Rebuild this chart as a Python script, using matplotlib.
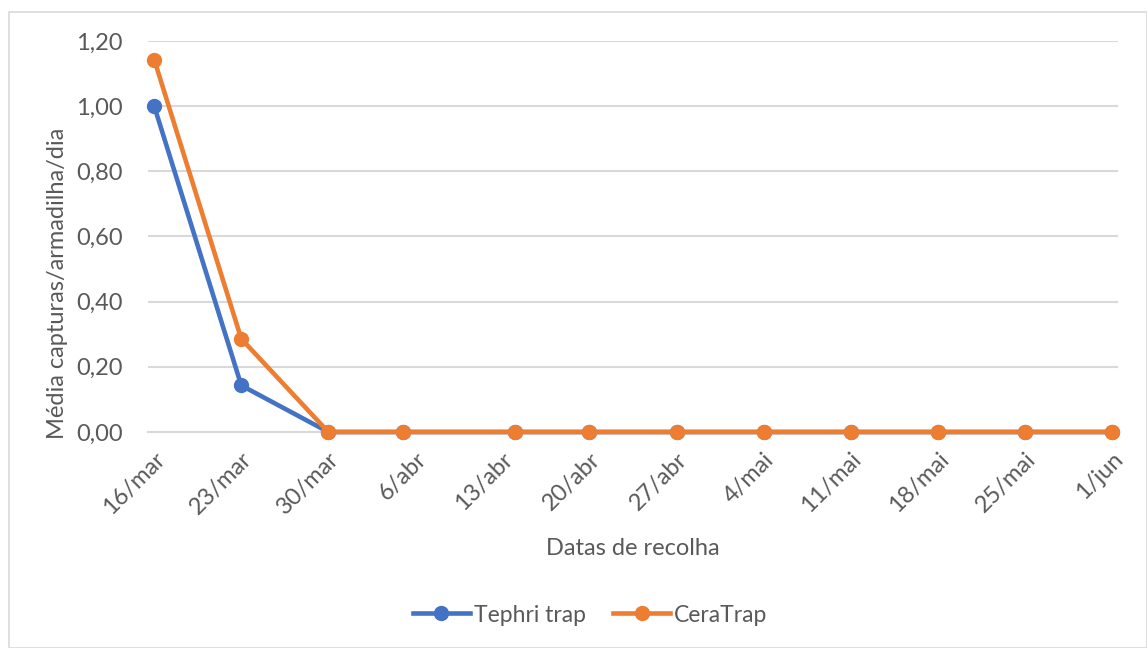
import datetime as dt
import matplotlib
matplotlib.use('Agg')
import matplotlib.pyplot as plt
from matplotlib.ticker import FuncFormatter, MultipleLocator
from matplotlib.patches import Rectangle

plt.rcParams['font.family'] = ['Lato', 'DejaVu Sans']

# dates of collection (day, month)
datas = [(16, 3), (23, 3), (30, 3), (5, 4), (14, 4), (20, 4), (27, 4),
         (4, 5), (11, 5), (18, 5), (25, 5), (1, 6)]
tephri = [1.00, 0.143, 0, 0, 0, 0, 0, 0, 0, 0, 0, 0]
ceratrap = [1.143, 0.286, 0, 0, 0, 0, 0, 0, 0, 0, 0, 0]

meses = {3: 'mar', 4: 'abr', 5: 'mai', 6: 'jun'}
x = [dt.datetime(2020, m, d) for d, m in datas]

c_txt = '#595959'
c_grid = '#D9D9D9'
fnt = 17

fig = plt.figure(figsize=(11.47, 6.48), dpi=100)
fig.patches.append(Rectangle((9/1147, 0), 1 - 9/1147, 1 - 12/648,
                             transform=fig.transFigure, fill=False,
                             ec=c_grid, lw=1.2))
ax = fig.add_axes([148/1147, 1 - 432/648, 970/1147, 391/648])

ax.plot(x, tephri, color='#4472C4', lw=3.3, marker='o', ms=10,
        label='Tephri trap', clip_on=False, zorder=3)
ax.plot(x, ceratrap, color='#ED7D31', lw=3.3, marker='o', ms=10,
        label='CeraTrap', clip_on=False, zorder=4)

ax.set_xlim(x[0] - dt.timedelta(hours=12), x[-1] + dt.timedelta(hours=12))
ax.set_ylim(0, 1.2)
ax.yaxis.set_major_locator(MultipleLocator(0.2))
ax.yaxis.set_major_formatter(FuncFormatter(lambda v, p: ('%.2f' % v).replace('.', ',')))

ticks = [x[0] + dt.timedelta(days=7 * k) for k in range(12)]
ax.set_xticks(ticks)
ax.set_xticklabels(['%d/%s' % (t.day, meses[t.month]) for t in ticks],
                   rotation=45, ha='right', va='top', rotation_mode='anchor')

for s in ['top', 'right', 'left']:
    ax.spines[s].set_visible(False)
ax.spines['bottom'].set_color(c_grid)
ax.spines['bottom'].set_linewidth(1.5)
ax.grid(axis='y', color=c_grid, lw=1.5)
ax.set_axisbelow(True)
ax.tick_params(axis='both', length=0, colors=c_txt, labelsize=fnt)
ax.tick_params(axis='x', pad=12)
ax.tick_params(axis='y', pad=18)

ax.set_xlabel('Datas de recolha', color=c_txt, fontsize=fnt, labelpad=14)
ax.set_ylabel('Média capturas/armadilha/dia', color=c_txt, fontsize=fnt, va='center')
ax.yaxis.set_label_coords(-0.093, 0.381)

leg = fig.legend(loc='center', bbox_to_anchor=(590/1147, 1 - 615/648), ncol=2,
                 frameon=False, fontsize=fnt - 0.5, handlelength=2.5, columnspacing=1.2,
                 handletextpad=0.15)
for t in leg.get_texts():
    t.set_color(c_txt)

fig.savefig('out.png', dpi=100)
